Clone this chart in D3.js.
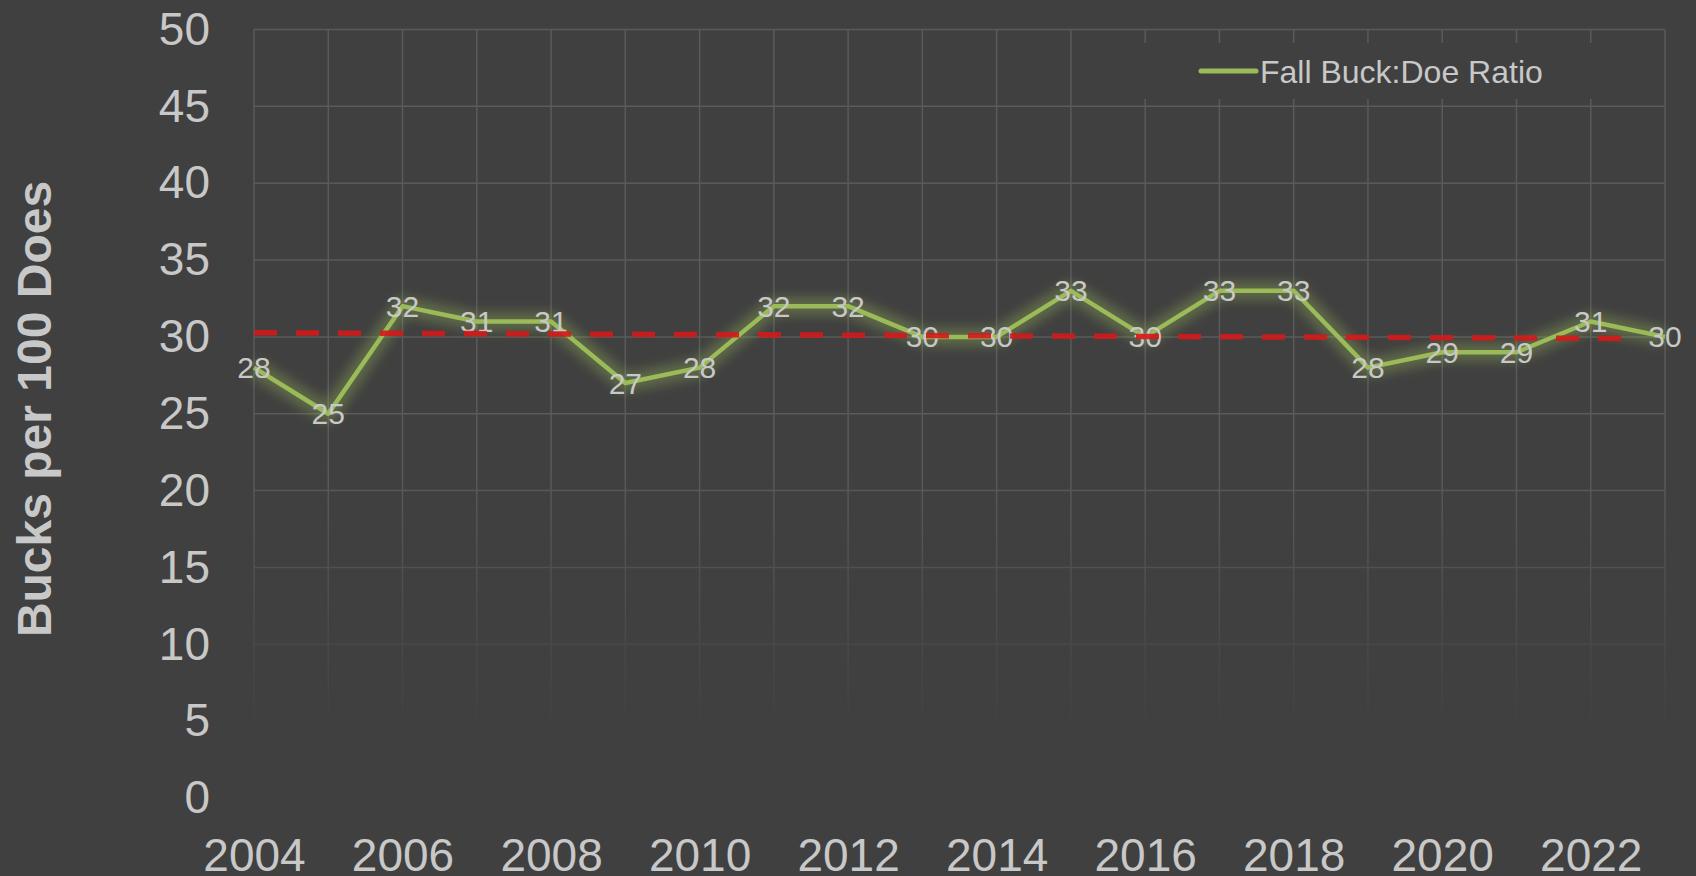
<!DOCTYPE html>
<html>
<head>
<meta charset="utf-8">
<script src="https://cdn.jsdelivr.net/npm/d3@7"></script>
<style>
  html, body { margin: 0; padding: 0; background: #404040; }
  svg { display: block; }
  text { font-family: "Liberation Sans", Arial, sans-serif; fill: #c8c8c8; }
</style>
</head>
<body>
<div id="chart"></div>
<script>
// data
const years = [2004, 2005, 2006, 2007, 2008, 2009, 2010, 2011, 2012, 2013,
               2014, 2015, 2016, 2017, 2018, 2019, 2020, 2021, 2022, 2023];
const ratio = [28, 25, 32, 31, 31, 27, 28, 32, 32, 30,
               30, 33, 30, 33, 33, 28, 29, 29, 31, 30];
const refYears = [2004, 2022.42];
const refValues = [30.27, 29.9];
const yTicks = [0, 5, 10, 15, 20, 25, 30, 35, 40, 45, 50];
const xTicks = [2004, 2006, 2008, 2010, 2012, 2014, 2016, 2018, 2020, 2022];
const seriesName = "Fall Buck:Doe Ratio";
const yTitle = "Bucks per 100 Does";

const width = 1696, height = 876;
const plotLeft = 254, plotRight = 1665, plotTop = 29.5, plotBottom = 798;

const svg = d3.select("#chart").append("svg")
    .attr("width", width).attr("height", height);

svg.append("rect").attr("width", width).attr("height", height).attr("fill", "#404040");

const x = d3.scaleLinear().domain([2004, 2023]).range([plotLeft, plotRight]);
const y = d3.scaleLinear().domain([0, 50]).range([plotBottom, plotTop]);

const defs = svg.append("defs");

// gridlines fade out toward the bottom
const grad = defs.append("linearGradient")
    .attr("id", "fade").attr("gradientUnits", "userSpaceOnUse")
    .attr("x1", 0).attr("x2", 0).attr("y1", 470).attr("y2", 740);
grad.append("stop").attr("offset", 0).attr("stop-color", "white");
grad.append("stop").attr("offset", 1).attr("stop-color", "black");
defs.append("mask").attr("id", "gridMask").attr("maskUnits", "userSpaceOnUse")
    .attr("x", 0).attr("y", 0).attr("width", width).attr("height", height)
    .append("rect").attr("x", 0).attr("y", 0).attr("width", width).attr("height", height)
    .attr("fill", "url(#fade)");

const glow = defs.append("filter").attr("id", "glow")
    .attr("x", "-10%").attr("y", "-50%").attr("width", "120%").attr("height", "200%");
glow.append("feGaussianBlur").attr("stdDeviation", 6);

const grid = svg.append("g").attr("mask", "url(#gridMask)")
    .attr("stroke", "#5a5a5a").attr("stroke-width", 1.5);
grid.selectAll("line.h").data(yTicks).join("line").attr("class", "h")
    .attr("x1", plotLeft).attr("x2", plotRight)
    .attr("y1", d => y(d)).attr("y2", d => y(d));
grid.selectAll("line.v").data(years).join("line").attr("class", "v")
    .attr("x1", d => x(d)).attr("x2", d => x(d))
    .attr("y1", plotTop).attr("y2", plotBottom);

// legend box hides the grid behind it
svg.append("rect").attr("x", 1090).attr("y", 43).attr("width", 562).attr("height", 56)
    .attr("fill", "#404040");
svg.append("line").attr("x1", 1201).attr("x2", 1256).attr("y1", 71).attr("y2", 71)
    .attr("stroke", "#9bbb59").attr("stroke-width", 5).attr("stroke-linecap", "round");
svg.append("text").attr("x", 1260).attr("y", 72).attr("dominant-baseline", "central")
    .style("font-size", "32px").text(seriesName);

// axes
const yAxis = svg.append("g").attr("transform", `translate(${plotLeft},0)`)
    .call(d3.axisLeft(y).tickValues(yTicks).tickSize(0).tickPadding(44));
const xAxis = svg.append("g").attr("transform", `translate(0,${plotBottom})`)
    .call(d3.axisBottom(x).tickValues(xTicks).tickFormat(d3.format("d")).tickSize(0).tickPadding(40));
[yAxis, xAxis].forEach(a => {
    a.select(".domain").remove();
    a.selectAll("text").attr("fill", "#c8c8c8")
        .style("font-size", "46px").style("font-family", '"Liberation Sans", Arial, sans-serif');
});

svg.append("text")
    .attr("transform", `translate(51,409) rotate(-90)`)
    .attr("text-anchor", "middle")
    .style("font-size", "48px").style("font-weight", "bold")
    .text(yTitle);

// series line with glow
const pts = years.map((yr, i) => [yr, ratio[i]]);
const line = d3.line().x(d => x(d[0])).y(d => y(d[1]));

svg.append("path").attr("d", line(pts))
    .attr("fill", "none").attr("stroke", "#9bbb59").attr("stroke-width", 18)
    .attr("stroke-linejoin", "round").attr("opacity", 0.35).attr("filter", "url(#glow)");
svg.append("path").attr("d", line(pts))
    .attr("fill", "none").attr("stroke", "#9bbb59").attr("stroke-width", 4.5)
    .attr("stroke-linejoin", "round");

// data labels centred on the points
svg.append("g").selectAll("text").data(pts).join("text")
    .attr("x", d => x(d[0])).attr("y", d => y(d[1]))
    .attr("text-anchor", "middle").attr("dominant-baseline", "central")
    .style("font-size", "30px")
    .text(d => d[1]);

// red reference line on top
const ref = refYears.map((yr, i) => [yr, refValues[i]]);
svg.append("path").attr("d", line(ref))
    .attr("fill", "none").attr("stroke", "#d41a1a").attr("stroke-width", 5.5)
    .attr("stroke-dasharray", "23,19").attr("opacity", 0.9);
</script>
</body>
</html>
